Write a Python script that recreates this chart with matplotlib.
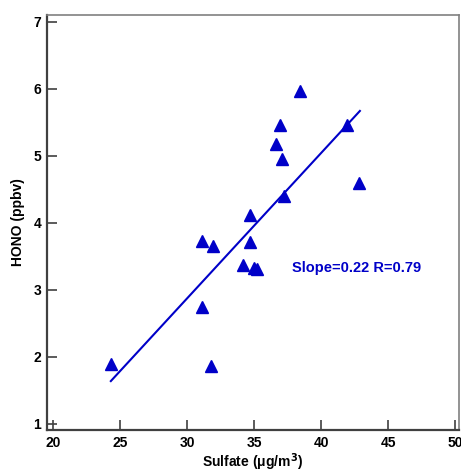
import matplotlib
matplotlib.use('Agg')
import matplotlib.pyplot as plt
import numpy as np

# scatter points
sulfate = [24.3, 31.1, 31.8, 31.1, 31.9, 34.2, 35.0, 35.2, 34.7, 34.7,
           37.2, 37.1, 36.6, 36.9, 38.4, 41.9, 42.8]
hono = [1.90, 2.75, 1.87, 3.73, 3.66, 3.37, 3.33, 3.31, 3.72, 4.12,
        4.40, 4.95, 5.18, 5.46, 5.97, 5.46, 4.60]

# regression line endpoints
fit_x = [24.3, 42.9]
fit_y = [1.64, 5.67]

xticks = [20, 25, 30, 35, 40, 45, 50]
yticks = [1, 2, 3, 4, 5, 6, 7]

plt.rcParams['font.family'] = ['Liberation Sans', 'DejaVu Sans']
plt.rcParams['font.weight'] = 'bold'
plt.rcParams['mathtext.default'] = 'bf'

blue = '#0000c8'
axcol = '#404040'

fig = plt.figure(figsize=(4.61, 4.71), dpi=100)
ax = fig.add_axes([0.101, 0.087, 0.8955, 0.881])

ax.plot(fit_x, fit_y, color=blue, lw=1.5)
ax.plot(sulfate, hono, linestyle='none', marker='^', ms=8, color=blue)

ax.set_xlim(19.5, 50.33)
ax.set_ylim(0.91, 7.1)
ax.set_xticks(xticks)
ax.set_yticks(yticks)
ax.tick_params(direction='in', length=7.5, width=1.2, color=axcol,
               labelsize=10, pad=4)
for side in ['left', 'bottom']:
    ax.spines[side].set_color(axcol)
    ax.spines[side].set_linewidth(1.6)
for side in ['top', 'right']:
    ax.spines[side].set_color('#808080')
    ax.spines[side].set_linewidth(1.2)

ax.set_xlabel('Sulfate (μg/m$^{3}$)', fontsize=10, fontweight='bold', labelpad=1)
ax.set_ylabel('HONO (ppbv)', fontsize=10, fontweight='bold', labelpad=6)

ax.text(37.8, 3.33, 'Slope=0.22 R=0.79', color=blue, fontsize=10.5,
        fontweight='bold', va='center', ha='left')

plt.savefig('out.png', dpi=100)
